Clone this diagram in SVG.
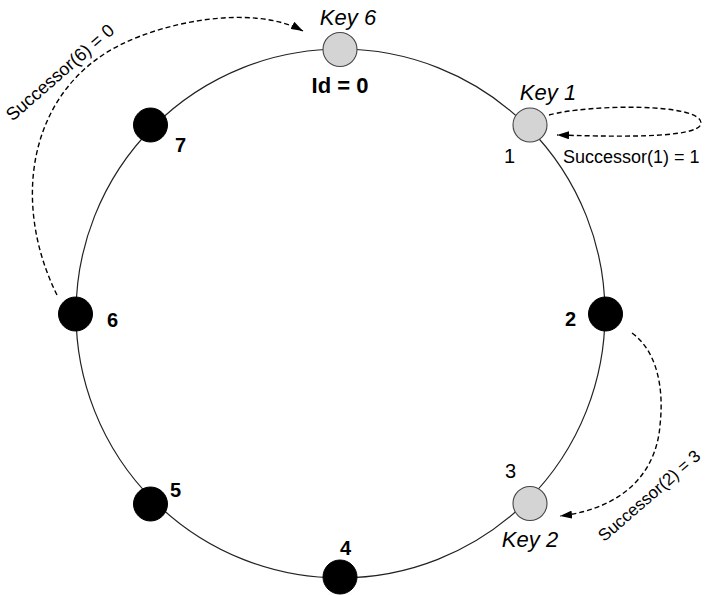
<svg xmlns="http://www.w3.org/2000/svg" width="706" height="595" viewBox="0 0 706 595">
  <defs>
    <style>
      .ring { fill: none; stroke: #222; stroke-width: 1.2; }
      .full { fill: #000; stroke: #000; stroke-width: 1; }
      .key { fill: #d4d4d4; stroke: #444; stroke-width: 1.1; }
      .dash { fill: none; stroke: #000; stroke-width: 1.4; stroke-dasharray: 5 3; }
      text { font-family: "Liberation Sans", Arial, sans-serif; fill: #000; }
      .num { font-size: 20px; font-weight: bold; }
      .numr { font-size: 20px; }
      .keyl { font-size: 22px; font-style: italic; }
      .idl { font-size: 22px; font-weight: bold; }
      .succ { font-size: 18px; }
      .succs { font-size: 17px; }
    </style>
    <marker id="arr" markerWidth="12" markerHeight="8" refX="12" refY="4" orient="auto" markerUnits="userSpaceOnUse">
      <path d="M0,0 L12,4 L0,8 z" fill="#000"/>
    </marker>
  </defs>
  <rect width="706" height="595" fill="#fff"/>

  <circle class="ring" cx="340.5" cy="313.5" r="264.5"/>

  <g id="connectors">
    <path class="dash" d="M57,295 C10,200 30,90 120,45 C170,20 255,5 303,31" marker-end="url(#arr)"/>
    <path class="dash" d="M549,115 C590,104 701,103 701,123 C701,140 600,136 557,135" marker-end="url(#arr)"/>
    <path class="dash" d="M632,333 C658,352 664,390 660,425 C657,468 628,508 560,516" marker-end="url(#arr)"/>
    <text class="succ" text-anchor="middle" transform="translate(64,77) rotate(-41)">Successor(6) = 0</text>
    <text class="succ" x="563" y="163">Successor(1) = 1</text>
    <text class="succs" text-anchor="middle" transform="translate(653,500) rotate(-41)">Successor(2) = 3</text>
  </g>

  <g id="node0">
    <circle class="key" cx="340" cy="49.5" r="17"/>
    <text class="keyl" x="348" y="25" text-anchor="middle">Key 6</text>
    <text class="idl" x="340" y="93" text-anchor="middle">Id = 0</text>
  </g>
  <g id="node1">
    <circle class="key" cx="530" cy="125" r="17"/>
    <text class="keyl" x="548" y="100" text-anchor="middle">Key 1</text>
    <text class="numr" x="504" y="163">1</text>
  </g>
  <g id="node2">
    <circle class="full" cx="605.5" cy="314" r="17"/>
    <text class="num" x="565" y="326">2</text>
  </g>
  <g id="node3">
    <circle class="key" cx="530" cy="503.5" r="17"/>
    <text class="numr" x="505" y="478">3</text>
    <text class="keyl" x="530" y="547" text-anchor="middle">Key 2</text>
  </g>
  <g id="node4">
    <circle class="full" cx="340" cy="577" r="17"/>
    <text class="num" x="340" y="555">4</text>
  </g>
  <g id="node5">
    <circle class="full" cx="150.5" cy="504" r="17"/>
    <text class="num" x="170" y="497">5</text>
  </g>
  <g id="node6">
    <circle class="full" cx="75.5" cy="314" r="17"/>
    <text class="num" x="107" y="327">6</text>
  </g>
  <g id="node7">
    <circle class="full" cx="150.5" cy="125" r="17"/>
    <text class="num" x="175" y="152">7</text>
  </g>
</svg>
